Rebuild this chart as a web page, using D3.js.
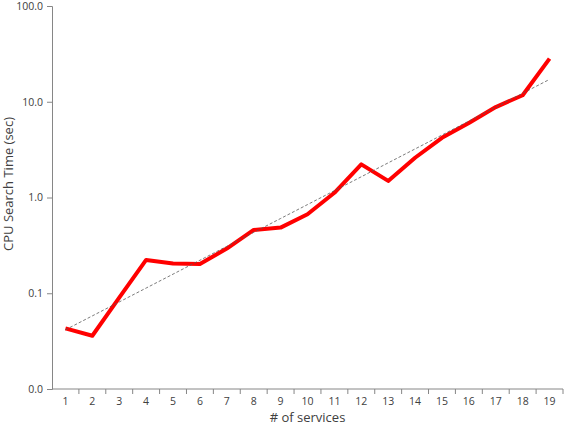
<!DOCTYPE html>
<html>
<head>
<meta charset="utf-8">
<script src="https://cdn.jsdelivr.net/npm/d3@7"></script>
<style>
  body { margin: 0; background: #fff; }
  text { font-family: "Open Sans", "Noto Sans", sans-serif; fill: #404040; }
</style>
</head>
<body>
<div id="chart"></div>
<script>
const services = [1,2,3,4,5,6,7,8,9,10,11,12,13,14,15,16,17,18,19];
const cpuTime = [0.043,0.036,0.09,0.223,0.204,0.202,0.293,0.458,0.485,0.668,1.12,2.22,1.49,2.6,4.2,6.0,8.8,11.7,28.2];
const yTicks = [0.01,0.1,1,10,100];

const width = 566, height = 426;
const margin = {top: 6, right: 3, bottom: 37, left: 52};

const svg = d3.select("#chart").append("svg")
  .attr("width", width)
  .attr("height", height);

const x = d3.scaleBand()
  .domain(services)
  .range([margin.left, width - margin.right]);

const y = d3.scaleLog()
  .domain([0.01, 100])
  .range([height - margin.bottom, margin.top]);

// y axis
const yAxis = svg.append("g")
  .attr("transform", `translate(${margin.left},0)`)
  .call(d3.axisLeft(y).tickValues(yTicks).tickFormat(d3.format(".1f")).tickSize(5).tickPadding(4));
yAxis.select(".domain").attr("stroke", "#868686");
yAxis.selectAll(".tick line").attr("stroke", "#868686");
yAxis.selectAll(".tick text").style("font-size", "10.5px").attr("fill", "#404040");

// x axis, ticks between categories
const xAxis = svg.append("g")
  .attr("transform", `translate(0,${height - margin.bottom})`);
xAxis.append("line")
  .attr("x1", margin.left).attr("x2", width - margin.right)
  .attr("stroke", "#868686");
xAxis.selectAll(".xtick")
  .data(services)
  .enter().append("line")
  .attr("x1", d => x(d) + x.bandwidth())
  .attr("x2", d => x(d) + x.bandwidth())
  .attr("y1", 0).attr("y2", 5)
  .attr("stroke", "#868686");
xAxis.selectAll(".xlab")
  .data(services)
  .enter().append("text")
  .attr("x", d => x(d) + x.bandwidth() / 2)
  .attr("y", 16)
  .attr("text-anchor", "middle")
  .style("font-size", "10.5px")
  .text(d => d);

// axis titles
svg.append("text")
  .attr("x", (margin.left + width - margin.right) / 2)
  .attr("y", 422)
  .attr("text-anchor", "middle")
  .style("font-size", "13px")
  .text("# of services");

svg.append("text")
  .attr("transform", "translate(13,184) rotate(-90)")
  .attr("text-anchor", "middle")
  .style("font-size", "13px")
  .text("CPU Search Time (sec)");

// exponential trendline (least squares on log10)
const lx = services, ly = cpuTime.map(v => Math.log10(v));
const mx = d3.mean(lx), my = d3.mean(ly);
const slope = d3.sum(lx, (d, i) => (d - mx) * (ly[i] - my)) / d3.sum(lx, d => (d - mx) * (d - mx));
const icpt = my - slope * mx;
const trend = services.map(s => ({s: s, v: Math.pow(10, icpt + slope * s)}));

const lineGen = d3.line()
  .x(d => x(d.s) + x.bandwidth() / 2)
  .y(d => y(d.v));

svg.append("path")
  .datum(services.map((s, i) => ({s: s, v: cpuTime[i]})))
  .attr("fill", "none")
  .attr("stroke", "#ff0000")
  .attr("stroke-width", 4)
  .attr("stroke-linejoin", "round")
  .attr("d", lineGen);

svg.append("path")
  .datum(trend)
  .attr("fill", "none")
  .attr("stroke", "#595959")
  .attr("stroke-width", 0.8)
  .attr("stroke-dasharray", "3,2")
  .attr("d", lineGen);
</script>
</body>
</html>
